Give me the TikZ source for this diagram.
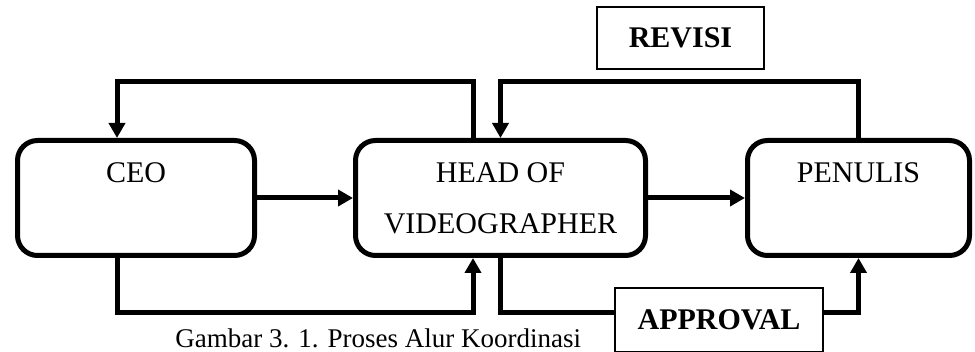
\documentclass[tikz,border=0pt]{standalone}
\usepackage{fontspec}
\setmainfont{Liberation Serif}
\usetikzlibrary{arrows.meta}
\begin{document}
\begin{tikzpicture}[x=.5pt,y=.5pt,
	kotak/.style={draw,line width=2.5pt,rounded corners=10pt,align=center,inner sep=0pt,minimum height=57.5pt,font=\fontsize{15}{25.5}\selectfont},
	ket/.style={draw,line width=1pt,fill=white,inner sep=0pt,font=\fontsize{15}{18}\selectfont\bfseries},
	alur/.style={line width=2.5pt,-{Triangle[length=7.5pt,width=8pt]}}]
	\useasboundingbox (0,0) rectangle (975,352);
	\clip (0,0) rectangle (975,352);
	\node[kotak,minimum width=118.5pt] (ceo) at (136,154) {CEO\\\mbox{}};
	\node[kotak,minimum width=145pt] (head) at (500.5,154) {HEAD OF\\VIDEOGRAPHER};
	\node[kotak,minimum width=111pt] (penulis) at (858.5,154) {PENULIS\\\mbox{}};
	\node[ket,minimum width=83.5pt,minimum height=31pt] (revisi) at (680.5,314) {REVISI};
	\node[anchor=base west,inner sep=0pt,font=\fontsize{13.5}{16}\selectfont] (caption) at (175,4) {Gambar 3. 1. Proses Alur Koordinasi};
	\draw[alur] (ceo) -- (head);
	\draw[alur] (head) -- (penulis);
	\draw[alur] ([xshift=-13.75pt]head.north) -- ++(0,28pt) -| ([xshift=-9.5pt]ceo.north);
	\draw[alur] ([xshift=-9.5pt]ceo.south) -- ++(0,-27.5pt) -| ([xshift=-13.75pt]head.south);
	\draw[alur] (penulis.north) -- ++(0,28pt) -| (head.north);
	\draw[alur] (head.south) -- ++(0,-27.5pt) -| (penulis.south);
	\node[ket,minimum width=104pt,minimum height=32pt] (approval) at (719,32) {APPROVAL};
\end{tikzpicture}
\end{document}
